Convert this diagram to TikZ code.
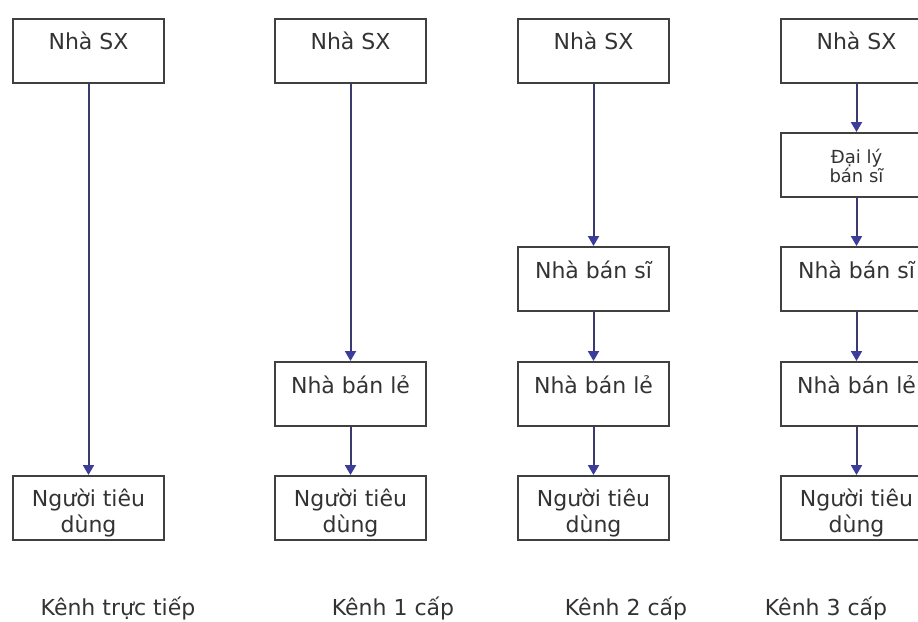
\documentclass[tikz,border=0pt]{standalone}
\usepackage{fontspec}
\setmainfont{DejaVu Sans}
\usetikzlibrary{arrows.meta}

\definecolor{boxline}{HTML}{404040}
\definecolor{flowline}{HTML}{3A3A6E}
\definecolor{tipfill}{HTML}{3C3C9A}
\definecolor{txt}{HTML}{333333}

\tikzset{
  stage/.style={draw=boxline, line width=2pt, minimum width=151pt,
    minimum height=64pt, inner sep=0pt, fill=white},
  % base anchor of a multi-line node sits on its last line
  boxtext/.style={text=txt, font=\fontsize{22}{26}\selectfont, inner sep=0pt,
    align=center, anchor=base},
  smalltext/.style={text=txt, font=\fontsize{18}{19}\selectfont, inner sep=0pt,
    align=center, anchor=base},
  caption/.style={text=txt, font=\fontsize{22}{26}\selectfont, inner sep=0pt},
  flow/.style={draw=flowline, line width=2pt,
    -{Triangle[width=11pt,length=10pt,color=tipfill,fill=tipfill]}}
}

\begin{document}
\begin{tikzpicture}[x=1pt,y=-1pt]
  \clip (0,0) rectangle (918,621);
  \fill[white] (0,0) rectangle (918,621);

  % column 1: direct channel
  \node[stage] (a1) at (88.5,50.5) {};
  \node[stage] (a2) at (88.5,508) {};
  \node[boxtext] (a1t) at ([yshift=-32pt]a1.north) {Nhà SX};
  \node[boxtext] (a2t) at ([yshift=-57pt]a2.north) {Người tiêu\\dùng};
  \draw[flow] (a1) -- (a2);
  \node[caption] (c1) at (118,608) {Kênh trực tiếp};

  % column 2: one-level channel
  \node[stage] (b1) at (350.5,50.5) {};
  \node[stage] (b2) at (350.5,394) {};
  \node[stage] (b3) at (350.5,508) {};
  \node[boxtext] (b1t) at ([yshift=-32pt]b1.north) {Nhà SX};
  \node[boxtext] (b2t) at ([yshift=-32pt]b2.north) {Nhà bán lẻ};
  \node[boxtext] (b3t) at ([yshift=-57pt]b3.north) {Người tiêu\\dùng};
  \draw[flow] (b1) -- (b2);
  \draw[flow] (b2) -- (b3);
  \node[caption] (c2) at (393,608) {Kênh 1 cấp};

  % column 3: two-level channel
  \node[stage] (d1) at (593.5,50.5) {};
  \node[stage] (d2) at (593.5,279) {};
  \node[stage] (d3) at (593.5,394) {};
  \node[stage] (d4) at (593.5,508) {};
  \node[boxtext] (d1t) at ([yshift=-32pt]d1.north) {Nhà SX};
  \node[boxtext] (d2t) at ([yshift=-32pt]d2.north) {Nhà bán sĩ};
  \node[boxtext] (d3t) at ([yshift=-32pt]d3.north) {Nhà bán lẻ};
  \node[boxtext] (d4t) at ([yshift=-57pt]d4.north) {Người tiêu\\dùng};
  \draw[flow] (d1) -- (d2);
  \draw[flow] (d2) -- (d3);
  \draw[flow] (d3) -- (d4);
  \node[caption] (c3) at (626,608) {Kênh 2 cấp};

  % column 4: three-level channel
  \node[stage] (e1) at (856.5,50.5) {};
  \node[stage] (e2) at (856.5,165) {};
  \node[stage] (e3) at (856.5,279) {};
  \node[stage] (e4) at (856.5,394) {};
  \node[stage] (e5) at (856.5,508) {};
  \node[boxtext] (e1t) at ([yshift=-32pt]e1.north) {Nhà SX};
  \node[smalltext] (e2t) at ([yshift=-50pt]e2.north) {Đại lý\\bán sĩ};
  \node[boxtext] (e3t) at ([yshift=-32pt]e3.north) {Nhà bán sĩ};
  \node[boxtext] (e4t) at ([yshift=-32pt]e4.north) {Nhà bán lẻ};
  \node[boxtext] (e5t) at ([yshift=-57pt]e5.north) {Người tiêu\\dùng};
  \draw[flow] (e1) -- (e2);
  \draw[flow] (e2) -- (e3);
  \draw[flow] (e3) -- (e4);
  \draw[flow] (e4) -- (e5);
  \node[caption] (c4) at (826,608) {Kênh 3 cấp};
\end{tikzpicture}
\end{document}
